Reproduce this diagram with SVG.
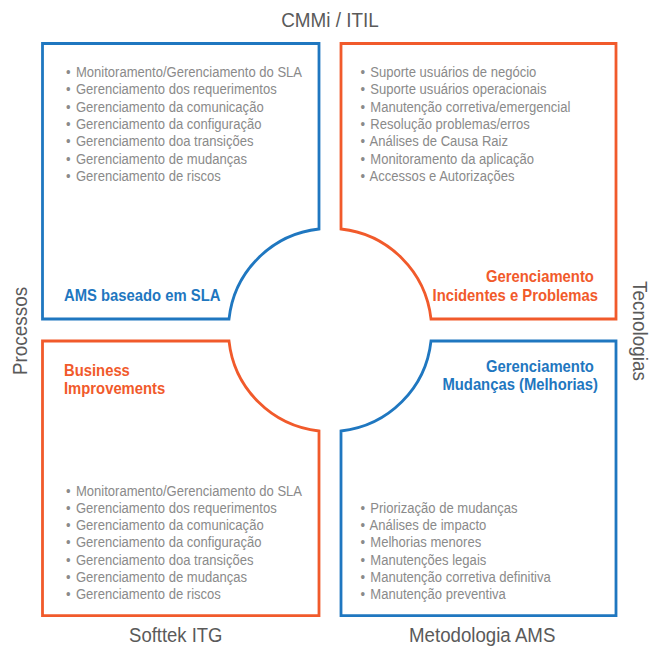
<svg xmlns="http://www.w3.org/2000/svg" width="652" height="647" viewBox="0 0 652 647">
  <style>
    .box { fill: #ffffff; stroke-width: 2.8; stroke-linejoin: miter; }
    .blue { stroke: #1f77c0; }
    .orange { stroke: #f15a2b; }
    .list { font-family: "Liberation Sans", Arial, sans-serif; font-size: 15px; fill: #8a8a8a; }
    .head { font-family: "Liberation Sans", Arial, sans-serif; font-size: 16px; font-weight: bold; }
    .hblue { fill: #1f77c0; }
    .horange { fill: #f15a2b; }
    .label { font-family: "Liberation Sans", Arial, sans-serif; font-size: 21px; fill: #5a5a5a; text-anchor: middle; }
  </style>
  <rect width="652" height="647" fill="#ffffff"/>

  <g id="labels">
    <text class="label" transform="translate(330 26.7) scale(0.9 1)">CMMi / ITIL</text>
    <text class="label" transform="translate(26.5 331) rotate(-90) scale(0.9 1)">Processos</text>
    <text class="label" transform="translate(632.5 331) rotate(90) scale(0.9 1)">Tecnologias</text>
    <text class="label" transform="translate(175.8 642) scale(0.88 1)">Softtek ITG</text>
    <text class="label" transform="translate(482.2 642) scale(0.89 1)">Metodologia AMS</text>
  </g>

  <g id="node-ams-sla">
    <path class="box blue" d="M42.5 43.5 H319 V229 A101.6 101.6 0 0 0 229 319 H42.5 Z"/>
    <text class="list" transform="translate(66 77.2) scale(0.87 1)">
      <tspan x="0" y="0">•<tspan dx="2"> Monitoramento/Gerenciamento do SLA</tspan></tspan>
      <tspan x="0" y="17.3">•<tspan dx="2"> Gerenciamento dos requerimentos</tspan></tspan>
      <tspan x="0" y="34.6">•<tspan dx="2"> Gerenciamento da comunicação</tspan></tspan>
      <tspan x="0" y="51.9">•<tspan dx="2"> Gerenciamento da configuração</tspan></tspan>
      <tspan x="0" y="69.2">•<tspan dx="2"> Gerenciamento doa transições</tspan></tspan>
      <tspan x="0" y="86.5">•<tspan dx="2"> Gerenciamento de mudanças</tspan></tspan>
      <tspan x="0" y="103.8">•<tspan dx="2"> Gerenciamento de riscos</tspan></tspan>
    </text>
    <text class="head hblue" transform="translate(64 300.7) scale(0.927 1)">AMS baseado em SLA</text>
  </g>

  <g id="node-incidentes">
    <path class="box orange" d="M341 43.5 H616 V319 H431 A101.6 101.6 0 0 0 341 229 Z"/>
    <text class="list" transform="translate(360.4 77.2) scale(0.87 1)">
      <tspan x="0" y="0">•<tspan dx="2"> Suporte usuários de negócio</tspan></tspan>
      <tspan x="0" y="17.3">•<tspan dx="2"> Suporte usuários operacionais</tspan></tspan>
      <tspan x="0" y="34.6">•<tspan dx="2"> Manutenção corretiva/emergencial</tspan></tspan>
      <tspan x="0" y="51.9">•<tspan dx="2"> Resolução problemas/erros</tspan></tspan>
      <tspan x="0" y="69.2">•<tspan dx="2"> Análises de Causa Raiz</tspan></tspan>
      <tspan x="0" y="86.5">•<tspan dx="2"> Monitoramento da aplicação</tspan></tspan>
      <tspan x="0" y="103.8">•<tspan dx="2"> Accessos e Autorizações</tspan></tspan>
    </text>
    <text class="head horange" text-anchor="end" transform="translate(598 282.3) scale(0.927 1)">
      <tspan x="0" y="0">Gerenciamento</tspan>
      <tspan x="0" y="18.3">Incidentes e Problemas</tspan>
    </text>
  </g>

  <g id="node-business">
    <path class="box orange" d="M42.5 341 H229 A101.6 101.6 0 0 0 319 431 V615.7 H42.5 Z"/>
    <text class="head horange" transform="translate(64 375.8) scale(0.927 1)">
      <tspan x="0" y="0">Business</tspan>
      <tspan x="0" y="17.8">Improvements</tspan>
    </text>
    <text class="list" transform="translate(66 495.6) scale(0.87 1)">
      <tspan x="0" y="0">•<tspan dx="2"> Monitoramento/Gerenciamento do SLA</tspan></tspan>
      <tspan x="0" y="17.3">•<tspan dx="2"> Gerenciamento dos requerimentos</tspan></tspan>
      <tspan x="0" y="34.6">•<tspan dx="2"> Gerenciamento da comunicação</tspan></tspan>
      <tspan x="0" y="51.9">•<tspan dx="2"> Gerenciamento da configuração</tspan></tspan>
      <tspan x="0" y="69.2">•<tspan dx="2"> Gerenciamento doa transições</tspan></tspan>
      <tspan x="0" y="86.5">•<tspan dx="2"> Gerenciamento de mudanças</tspan></tspan>
      <tspan x="0" y="103.8">•<tspan dx="2"> Gerenciamento de riscos</tspan></tspan>
    </text>
  </g>

  <g id="node-mudancas">
    <path class="box blue" d="M431 341 H616 V615.7 H341 V431 A101.6 101.6 0 0 0 431 341 Z"/>
    <text class="head hblue" text-anchor="end" transform="translate(598 371.8) scale(0.927 1)">
      <tspan x="0" y="0">Gerenciamento</tspan>
      <tspan x="0" y="18.2">Mudanças (Melhorias)</tspan>
    </text>
    <text class="list" transform="translate(360.4 512.9) scale(0.87 1)">
      <tspan x="0" y="0">•<tspan dx="2"> Priorização de mudanças</tspan></tspan>
      <tspan x="0" y="17.3">•<tspan dx="2"> Análises de impacto</tspan></tspan>
      <tspan x="0" y="34.6">•<tspan dx="2"> Melhorias menores</tspan></tspan>
      <tspan x="0" y="51.9">•<tspan dx="2"> Manutenções legais</tspan></tspan>
      <tspan x="0" y="69.2">•<tspan dx="2"> Manutenção corretiva definitiva</tspan></tspan>
      <tspan x="0" y="86.5">•<tspan dx="2"> Manutenção preventiva</tspan></tspan>
    </text>
  </g>

  <g id="connectors"/>
</svg>
